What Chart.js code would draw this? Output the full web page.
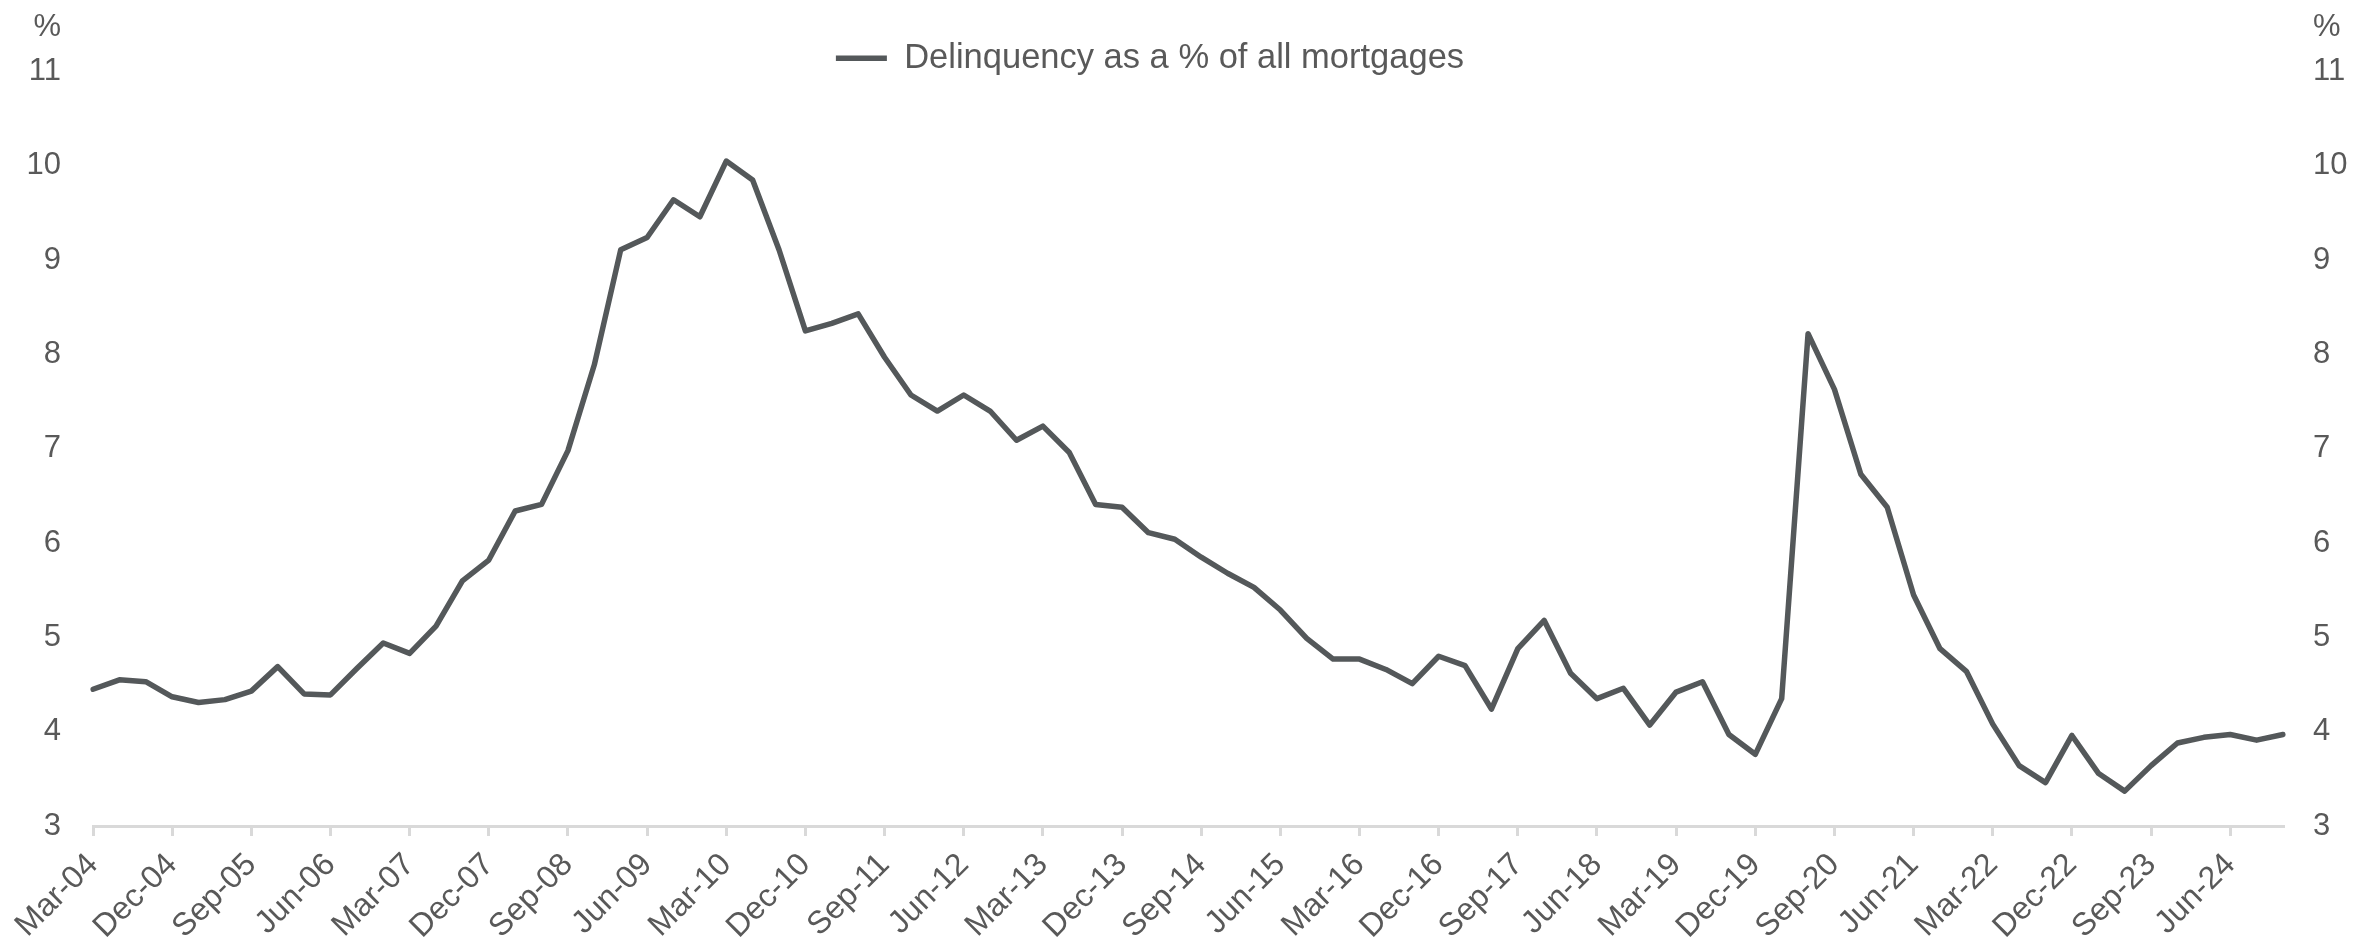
<!DOCTYPE html>
<html>
<head>
<meta charset="utf-8">
<script src="https://cdn.jsdelivr.net/npm/chart.js@4.4.1/dist/chart.umd.min.js"></script>
<style>
  html, body { margin: 0; padding: 0; background: #ffffff; }
  #wrap { width: 2358px; height: 949px; position: relative; }
</style>
</head>
<body>
<div id="wrap"><canvas id="c" width="2358" height="949"></canvas></div>
<script>
// Quarterly labels Mar-04 .. Dec-24
const months = ['Mar', 'Jun', 'Sep', 'Dec'];
const categories = [];
for (let y = 4; y <= 24; y++) {
  for (const m of months) categories.push(m + '-' + String(y).padStart(2, '0'));
}

const seriesName = 'Delinquency as a % of all mortgages';
const delinquency = [
  4.45, 4.55, 4.53, 4.37, 4.31, 4.34, 4.43, 4.69, 4.40, 4.39,
  4.67, 4.94, 4.83, 5.12, 5.60, 5.82, 6.34, 6.41, 6.98, 7.89,
  9.11, 9.24, 9.64, 9.46, 10.05, 9.85, 9.11, 8.25, 8.33, 8.43,
  7.97, 7.57, 7.40, 7.57, 7.40, 7.09, 7.24, 6.96, 6.41, 6.38,
  6.11, 6.04, 5.85, 5.68, 5.53, 5.29, 4.99, 4.77, 4.77, 4.66,
  4.51, 4.80, 4.70, 4.24, 4.88, 5.18, 4.62, 4.35, 4.46, 4.07,
  4.42, 4.53, 3.97, 3.76, 4.35, 8.22, 7.63, 6.73, 6.38, 5.45,
  4.88, 4.64, 4.08, 3.64, 3.46, 3.96, 3.56, 3.37, 3.64, 3.88,
  3.94, 3.97, 3.91, 3.97
];

const yMin = 3, yMax = 11, yStep = 1;
const unitLabel = '%';

const textColor = '#595959';
const lineColor = '#54585a';
const axisColor = '#d9d9d9';
const fontFamily = '"Liberation Sans", Arial, sans-serif';

const percentPlugin = {
  id: 'percentLabels',
  afterDraw(chart) {
    const ctx = chart.ctx;
    const yl = chart.scales.y, yr = chart.scales.y2;
    ctx.save();
    ctx.fillStyle = textColor;
    ctx.font = '31px ' + fontFamily;
    ctx.textBaseline = 'middle';
    ctx.textAlign = 'right';
    ctx.fillText(unitLabel, yl.right - 32, 27);
    ctx.textAlign = 'left';
    ctx.fillText(unitLabel, yr.left + 30, 27);
    ctx.restore();
  }
};

const legendShift = {
  id: 'legendShift',
  afterLayout(chart) {
    const lg = chart.legend;
    if (lg) {
      lg.left -= 29; lg.right -= 29;
      lg.top += 14; lg.bottom += 14;
    }
  }
};

new Chart(document.getElementById('c'), {
  type: 'line',
  data: {
    labels: categories,
    datasets: [{
      label: seriesName,
      data: delinquency,
      borderColor: lineColor,
      backgroundColor: lineColor,
      borderWidth: 5.5,
      borderCapStyle: 'round',
      borderJoinStyle: 'round',
      pointRadius: 0,
      tension: 0,
      yAxisID: 'y'
    }]
  },
  options: {
    responsive: false,
    animation: false,
    devicePixelRatio: 1,
    layout: { padding: { top: 27, left: 0, right: 0, bottom: 0 } },
    plugins: {
      tooltip: { enabled: false },
      legend: {
        display: true,
        position: 'top',
        labels: {
          color: textColor,
          font: { family: fontFamily, size: 34.5, lineHeight: 1 },
          usePointStyle: true,
          pointStyle: 'line',
          pointStyleWidth: 51,
          padding: 0
        }
      }
    },
    scales: {
      x: {
        type: 'category',
        offset: false,
        grid: {
          display: true,
          drawOnChartArea: false,
          drawTicks: true,
          tickLength: 10,
          lineWidth: 3,
          color: (ctx) => (ctx.index % 3 === 0 ? axisColor : 'rgba(0,0,0,0)')
        },
        border: { display: true, color: axisColor, width: 3 },
        ticks: {
          autoSkip: false,
          maxRotation: 45,
          minRotation: 45,
          padding: 10,
          color: textColor,
          font: { family: fontFamily, size: 32 },
          callback: function (val, idx) { return idx % 3 === 0 ? categories[idx] : ''; }
        },
        afterFit(scale) { scale.height = 123; }
      },
      y: {
        type: 'linear',
        position: 'left',
        min: yMin, max: yMax,
        grid: { display: false, drawTicks: false },
        border: { display: false },
        ticks: {
          stepSize: yStep,
          padding: 32,
          color: textColor,
          font: { family: fontFamily, size: 31 }
        },
        afterFit(scale) { scale.width = 93; }
      },
      y2: {
        type: 'linear',
        position: 'right',
        display: true,
        min: yMin, max: yMax,
        grid: { display: false, drawTicks: false },
        border: { display: false },
        ticks: {
          stepSize: yStep,
          padding: 30,
          color: textColor,
          font: { family: fontFamily, size: 31 }
        },
        afterFit(scale) { scale.width = 75; }
      }
    }
  },
  plugins: [percentPlugin, legendShift]
});
</script>
</body>
</html>
